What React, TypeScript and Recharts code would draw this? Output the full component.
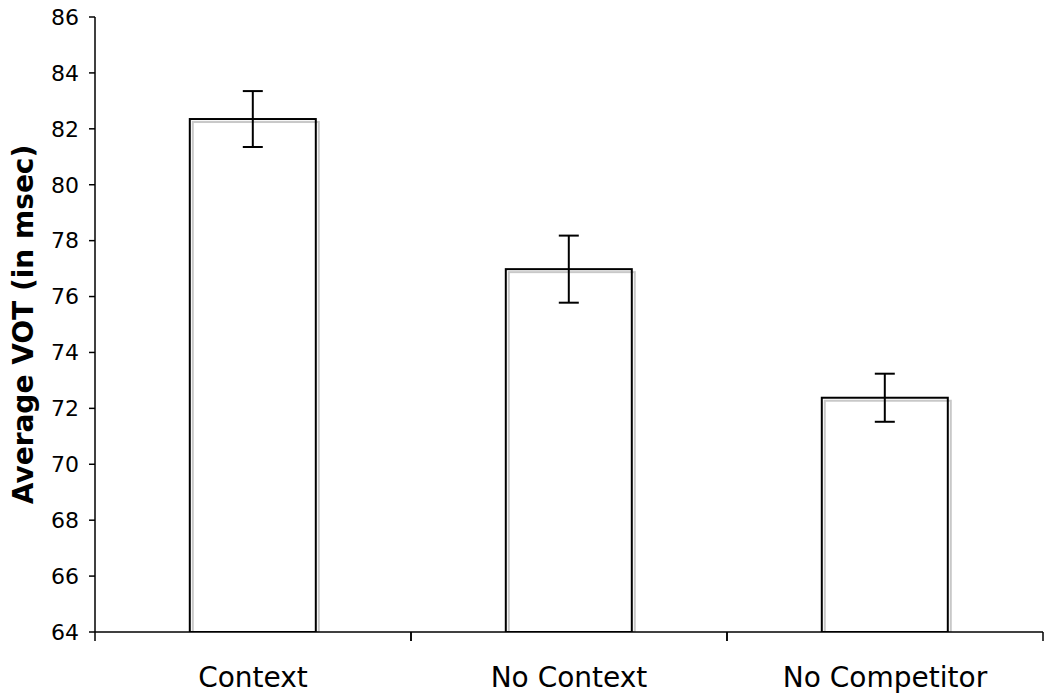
import { Bar, BarChart, ErrorBar, XAxis, YAxis } from "recharts"

const conditions = ["Context", "No Context", "No Competitor"]
const meanVot = [82.35, 76.98, 72.38]
const voterr = [1.0, 1.2, 0.86]
const yTicks = [64, 66, 68, 70, 72, 74, 76, 78, 80, 82, 84, 86]
const yTitle = "Average VOT (in msec)"

const data = conditions.map((name, i) => ({ name, vot: meanVot[i], err: voterr[i] }))

const FONT = "Verdana, 'DejaVu Sans', sans-serif"
const PLOT_LEFT = 95
const PLOT_RIGHT = 1043
const BAND = (PLOT_RIGHT - PLOT_LEFT) / conditions.length

function ShadowBar(props: any) {
  const { x, y, width, height } = props
  return (
    <g>
      <rect x={x} y={y} width={width} height={height} fill="#fff" />
      <rect x={x + 3} y={y + 3} width={width} height={height - 3} fill="none" stroke="#c8c8c8" strokeWidth={2} />
      <rect x={x} y={y} width={width} height={height} fill="none" stroke="#000" strokeWidth={2} />
    </g>
  )
}

function CategoryTick(props: any) {
  const { x, y, payload } = props
  const axisY = y - 8
  return (
    <g>
      <line x1={x - BAND / 2} x2={x - BAND / 2} y1={axisY} y2={axisY + 9} stroke="#000" strokeWidth={1.5} />
      <line x1={x + BAND / 2} x2={x + BAND / 2} y1={axisY} y2={axisY + 9} stroke="#000" strokeWidth={1.5} />
      <text x={x} y={axisY + 55} textAnchor="middle" fontSize={28} fontFamily={FONT} fill="#000">
        {payload.value}
      </text>
    </g>
  )
}

function YTitle(props: any) {
  const { viewBox } = props
  const cy = viewBox.y + viewBox.height / 2
  return (
    <text
      transform={`translate(33, ${cy}) rotate(-90)`}
      textAnchor="middle"
      fontSize={28}
      fontWeight="bold"
      fontFamily={FONT}
      fill="#000"
    >
      {yTitle}
    </text>
  )
}

export default function App() {
  return (
    <div style={{ position: "absolute", left: 0, top: 0, background: "#fff" }}>
      <BarChart
        width={1050}
        height={696}
        data={data}
        margin={{ top: 17, right: 7, bottom: 24, left: 35 }}
        barCategoryGap="30%"
      >
        <XAxis
          dataKey="name"
          tickLine={false}
          axisLine={{ stroke: "#000", strokeWidth: 1.5 }}
          tick={<CategoryTick />}
          height={40}
          interval={0}
        />
        <YAxis
          domain={[64, 86]}
          ticks={yTicks}
          interval={0}
          width={60}
          allowDataOverflow
          axisLine={{ stroke: "#000", strokeWidth: 1.5 }}
          tickLine={{ stroke: "#000", strokeWidth: 1.5 }}
          tickSize={6}
          tick={{ fontSize: 22, fontFamily: FONT, fill: "#000", dx: -8 }}
          label={<YTitle />}
        />
        <Bar dataKey="vot" shape={<ShadowBar />} isAnimationActive={false}>
          <ErrorBar dataKey="err" width={10} stroke="#000" strokeWidth={2} />
        </Bar>
      </BarChart>
    </div>
  )
}
